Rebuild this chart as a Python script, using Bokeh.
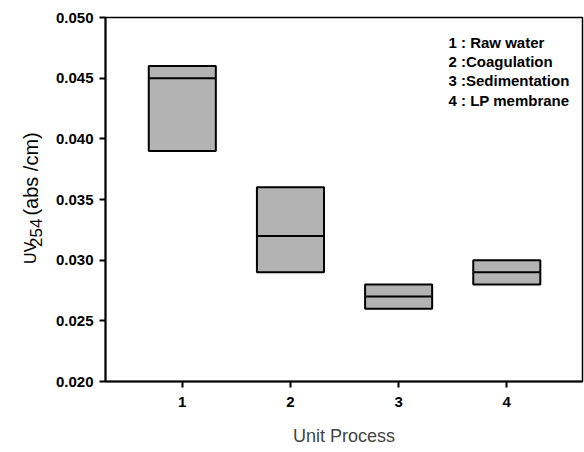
import math
from bokeh.plotting import figure
from bokeh.layouts import row
from bokeh.models import FixedTicker, NumeralTickFormatter, Label, Range1d
from bokeh.core.properties import value
from bokeh.embed import file_html
from bokeh.resources import INLINE

# ---- data ----
process = [1, 2, 3, 4]
tick_labels = ["1", "2", "3", "4"]
q1 = [0.039, 0.029, 0.026, 0.028]
median = [0.045, 0.032, 0.027, 0.029]
q3 = [0.046, 0.036, 0.028, 0.030]
legend_lines = ["1 : Raw water", "2 :Coagulation", "3 :Sedimentation", "4 : LP membrane"]
y_ticks = [0.020, 0.025, 0.030, 0.035, 0.040, 0.045, 0.050]
y_label_parts = ["UV", "254", "(abs /cm)"]

FONT = "Liberation Sans"
W, H = 584, 452
LW = 45  # width of the side strip holding the y-axis title
FL, FR, FT, FB = 105, 582, 17, 381  # frame edges in px (whole page)
XMIN, XMAX = 0.29, 4.70
YMIN, YMAX = 0.020, 0.050
YOFF = 28  # empirical correction for rotated text placement

def dx(px):
    return XMIN + (px - FL) / (FR - FL) * (XMAX - XMIN)

def dy(py):
    return YMAX - (py - FT) / (FB - FT) * (YMAX - YMIN)

# --- side strip with the rotated y-axis title (pixel coordinates, y up) ---
s = figure(width=LW, height=H, output_backend="svg", toolbar_location=None,
           x_range=Range1d(0, LW), y_range=Range1d(0, H),
           x_axis_type=None, y_axis_type=None,
           min_border_left=0, min_border_right=0, min_border_top=0, min_border_bottom=0)
s.outline_line_color = None
s.xgrid.visible = False
s.ygrid.visible = False
s.background_fill_color = "white"
s.border_fill_color = "white"
s.text(x=[30, 35, 30], y=[H - 278 - YOFF, H - 257 - YOFF, H - 218 - YOFF],
       text=y_label_parts, angle=math.pi / 2, text_font=value(FONT),
       text_font_size=["16px", "17px", "20px"], text_color="black",
       text_align="left", text_baseline="middle")

# --- main plot ---
p = figure(width=W - LW, height=H, output_backend="svg", toolbar_location=None,
           x_range=Range1d(XMIN, XMAX), y_range=Range1d(YMIN, YMAX),
           min_border_left=FL - LW, min_border_right=W - FR,
           min_border_top=FT, min_border_bottom=H - FB)
p.background_fill_color = "white"
p.border_fill_color = "white"
p.outline_line_color = "black"
p.outline_line_width = 1.5
p.xgrid.visible = False
p.ygrid.visible = False

bw = 0.62
p.vbar(x=process, bottom=q1, top=q3, width=bw, fill_color="#b3b3b3",
       line_color="black", line_width=2)
p.segment(x0=[x - bw / 2 for x in process], x1=[x + bw / 2 for x in process],
          y0=median, y1=median, line_color="black", line_width=2)

p.xaxis.ticker = FixedTicker(ticks=process)
p.xaxis.major_label_overrides = {x: t for x, t in zip(process, tick_labels)}
p.yaxis.ticker = FixedTicker(ticks=y_ticks)
p.yaxis.formatter = NumeralTickFormatter(format="0.000")
for ax in (p.xaxis, p.yaxis):
    ax.axis_line_width = 2
    ax.axis_line_color = "black"
    ax.major_tick_line_width = 2
    ax.major_tick_line_color = "black"
    ax.major_tick_in = 0
    ax.major_tick_out = 6
    ax.minor_tick_line_color = None
    ax.major_label_text_font = FONT
    ax.major_label_text_font_size = "15px"
    ax.major_label_text_font_style = "bold"
    ax.major_label_text_color = "black"
p.yaxis.major_label_standoff = 6
p.xaxis.major_label_standoff = 9
p.xaxis.axis_label = "Unit Process"
p.xaxis.axis_label_text_font = FONT
p.xaxis.axis_label_text_font_size = "18px"
p.xaxis.axis_label_text_font_style = "normal"
p.xaxis.axis_label_standoff = 16

for i, t in enumerate(legend_lines):
    p.add_layout(Label(x=dx(448), y=dy(42 + i * 19.2), text=t, text_font=FONT,
                       text_font_size="15px", text_font_style="bold",
                       text_color="black",
                       text_align="left", text_baseline="middle"))

layout = row(s, p, spacing=0)
open("out.html", "w").write(file_html(layout, INLINE))
